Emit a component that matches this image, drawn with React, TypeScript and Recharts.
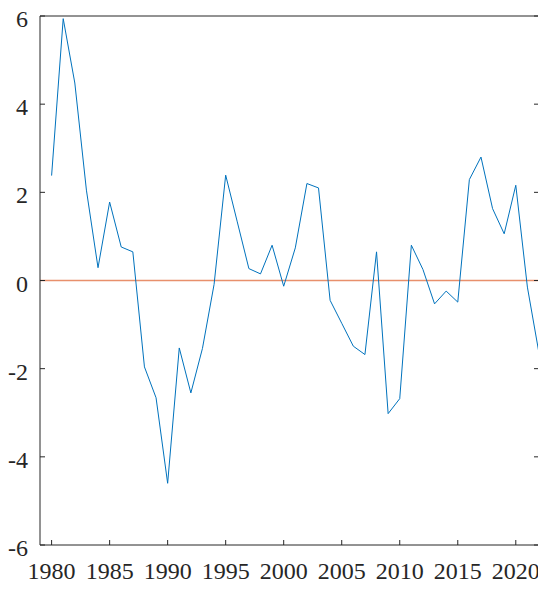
import React from "react";
import { LineChart, Line, XAxis, YAxis, ReferenceLine } from "recharts";

const years: number[] = [
  1980, 1981, 1982, 1983, 1984, 1985, 1986, 1987, 1988, 1989,
  1990, 1991, 1992, 1993, 1994, 1995, 1996, 1997, 1998, 1999,
  2000, 2001, 2002, 2003, 2004, 2005, 2006, 2007, 2008, 2009,
  2010, 2011, 2012, 2013, 2014, 2015, 2016, 2017, 2018, 2019,
  2020, 2021, 2022,
];

const values: number[] = [
  2.38, 5.94, 4.48, 2.05, 0.29, 1.78, 0.76, 0.65, -1.96, -2.66,
  -4.6, -1.53, -2.55, -1.54, -0.09, 2.39, 1.33, 0.27, 0.15, 0.8,
  -0.13, 0.74, 2.2, 2.1, -0.45, -0.97, -1.49, -1.68, 0.65, -3.02,
  -2.68, 0.8, 0.25, -0.53, -0.24, -0.49, 2.29, 2.8, 1.63, 1.06,
  2.16, -0.15, -1.65,
];

const xTicks: number[] = [1980, 1985, 1990, 1995, 2000, 2005, 2010, 2015, 2020];
const yTicks: number[] = [-6, -4, -2, 0, 2, 4, 6];

const data = years.map((year, i) => ({ year, value: values[i] }));

const AXIS = "#262626";
const tickStyle = { fill: AXIS, fontSize: 24, fontFamily: "Liberation Serif" };
const blank = () => "";

const YTick = (props: any) => {
  const { x, y, payload } = props;
  return (
    <text
      x={x}
      y={y}
      dy={11}
      textAnchor="end"
      fill={AXIS}
      fontSize={24}
      fontFamily="Liberation Serif"
    >
      {payload.value}
    </text>
  );
};

export default function App() {
  return (
    <LineChart
      width={538}
      height={585}
      data={data}
      margin={{ top: 7, right: 6, bottom: 0, left: 0 }}
    >
      <XAxis
        dataKey="year"
        type="number"
        domain={[1979, 2022]}
        allowDataOverflow
        ticks={xTicks}
        interval={0}
        height={48}
        tickSize={-5}
        tickMargin={22}
        stroke={AXIS}
        tick={tickStyle}
      />
      <XAxis
        xAxisId="top"
        orientation="top"
        type="number"
        domain={[1979, 2022]}
        allowDataOverflow
        ticks={xTicks}
        interval={0}
        height={1}
        tickSize={-5}
        stroke={AXIS}
        tickFormatter={blank}
      />
      <YAxis
        type="number"
        domain={[-6, 6]}
        allowDataOverflow
        ticks={yTicks}
        interval={0}
        width={32}
        tickSize={-5}
        tickMargin={17}
        stroke={AXIS}
        tick={YTick}
      />
      <YAxis
        yAxisId="right"
        orientation="right"
        type="number"
        domain={[-6, 6]}
        allowDataOverflow
        ticks={yTicks}
        interval={0}
        width={1}
        tickSize={-5}
        stroke={AXIS}
        tickFormatter={blank}
      />
      <ReferenceLine xAxisId="top" yAxisId="right" y={0} stroke="#E8906C" strokeWidth={1.5} />
      <Line
        dataKey="value"
        stroke="#0072BD"
        strokeWidth={1}
        dot={false}
        isAnimationActive={false}
      />
    </LineChart>
  );
}
